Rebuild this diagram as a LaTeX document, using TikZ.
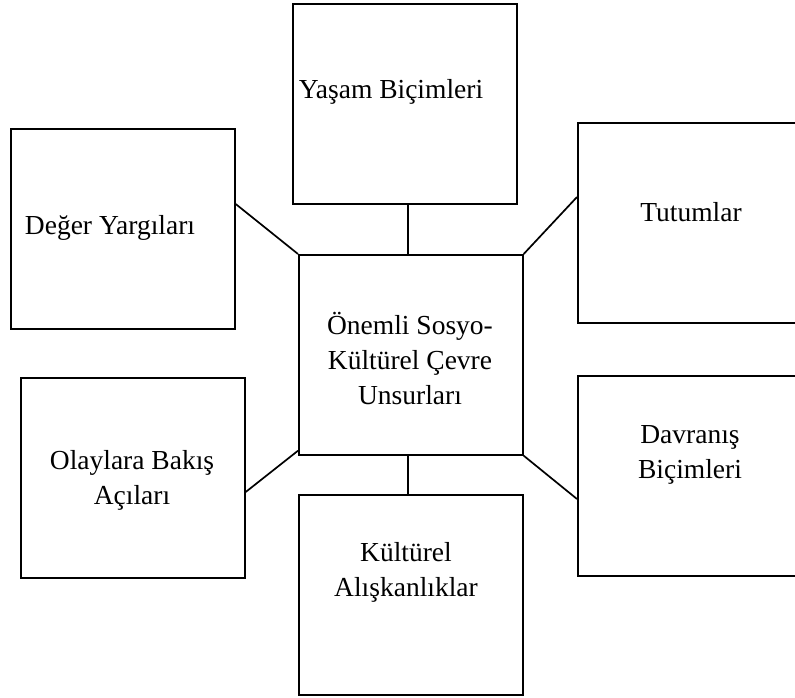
\documentclass[tikz,border=0pt]{standalone}
\usepackage{fontspec}
\setmainfont{Liberation Serif}
\usetikzlibrary{calc}
\begin{document}
\begin{tikzpicture}[x=1pt,y=1pt,
  box/.style={draw=black, line width=1.7pt, minimum width=224pt, minimum height=200pt, inner sep=0pt, anchor=north west},
  link/.style={draw=black, line width=1.7pt},
  lbl/.style={font=\fontsize{27.5}{35}\selectfont, align=center, inner sep=0pt, anchor=center}]
  \useasboundingbox (0,0) rectangle (795,-697);
  \clip (0,0) rectangle (795,-697);
  \fill[white] (0,0) rectangle (795,-697);

  % boxes (top-left corners)
  \node[box] (yasam)  at (292,-3)   {};
  \node[box] (deger)  at (10,-128)  {};
  \node[box] (tutum)  at (577,-122) {};
  \node[box] (center) at (298,-254) {};
  \node[box] (olay)   at (20,-377)  {};
  \node[box] (davr)   at (577,-375) {};
  \node[box] (kultur) at (298,-494) {};

  % labels
  \node[lbl] (tyasam)  at (391,-92)  {Yaşam Biçimleri};
  \node[lbl] (tdeger)  at (110,-228) {Değer Yargıları};
  \node[lbl] (ttutum)  at (691,-212) {Tutumlar};
  \node[lbl] (tcenter) at (410,-358) {Önemli Sosyo-\\Kültürel Çevre\\Unsurları};
  \node[lbl] (tolay)   at (132,-480) {Olaylara Bakış\\Açıları};
  \node[lbl] (tdavr)   at (690,-455) {Davranış\\Biçimleri};
  \node[lbl] (tkultur) at (406,-572) {Kültürel\\Alışkanlıklar};

  % connectors from the central box
  \draw[link] (center.north west) -- ($(deger.north east)+(0,-76)$);
  \draw[link] ($(yasam.south)+(3,0)$) -- ($(center.north)+(-3,0)$);
  \draw[link] (center.north east) -- ($(tutum.north west)+(0,-75)$);
  \draw[link] ($(center.south west)+(0,5)$) -- ($(olay.north east)+(0,-115)$);
  \draw[link] (center.south east) -- ($(davr.north west)+(0,-124)$);
  \draw[link] ($(center.south)+(-3,0)$) -- ($(kultur.north)+(-3,0)$);
\end{tikzpicture}
\end{document}
